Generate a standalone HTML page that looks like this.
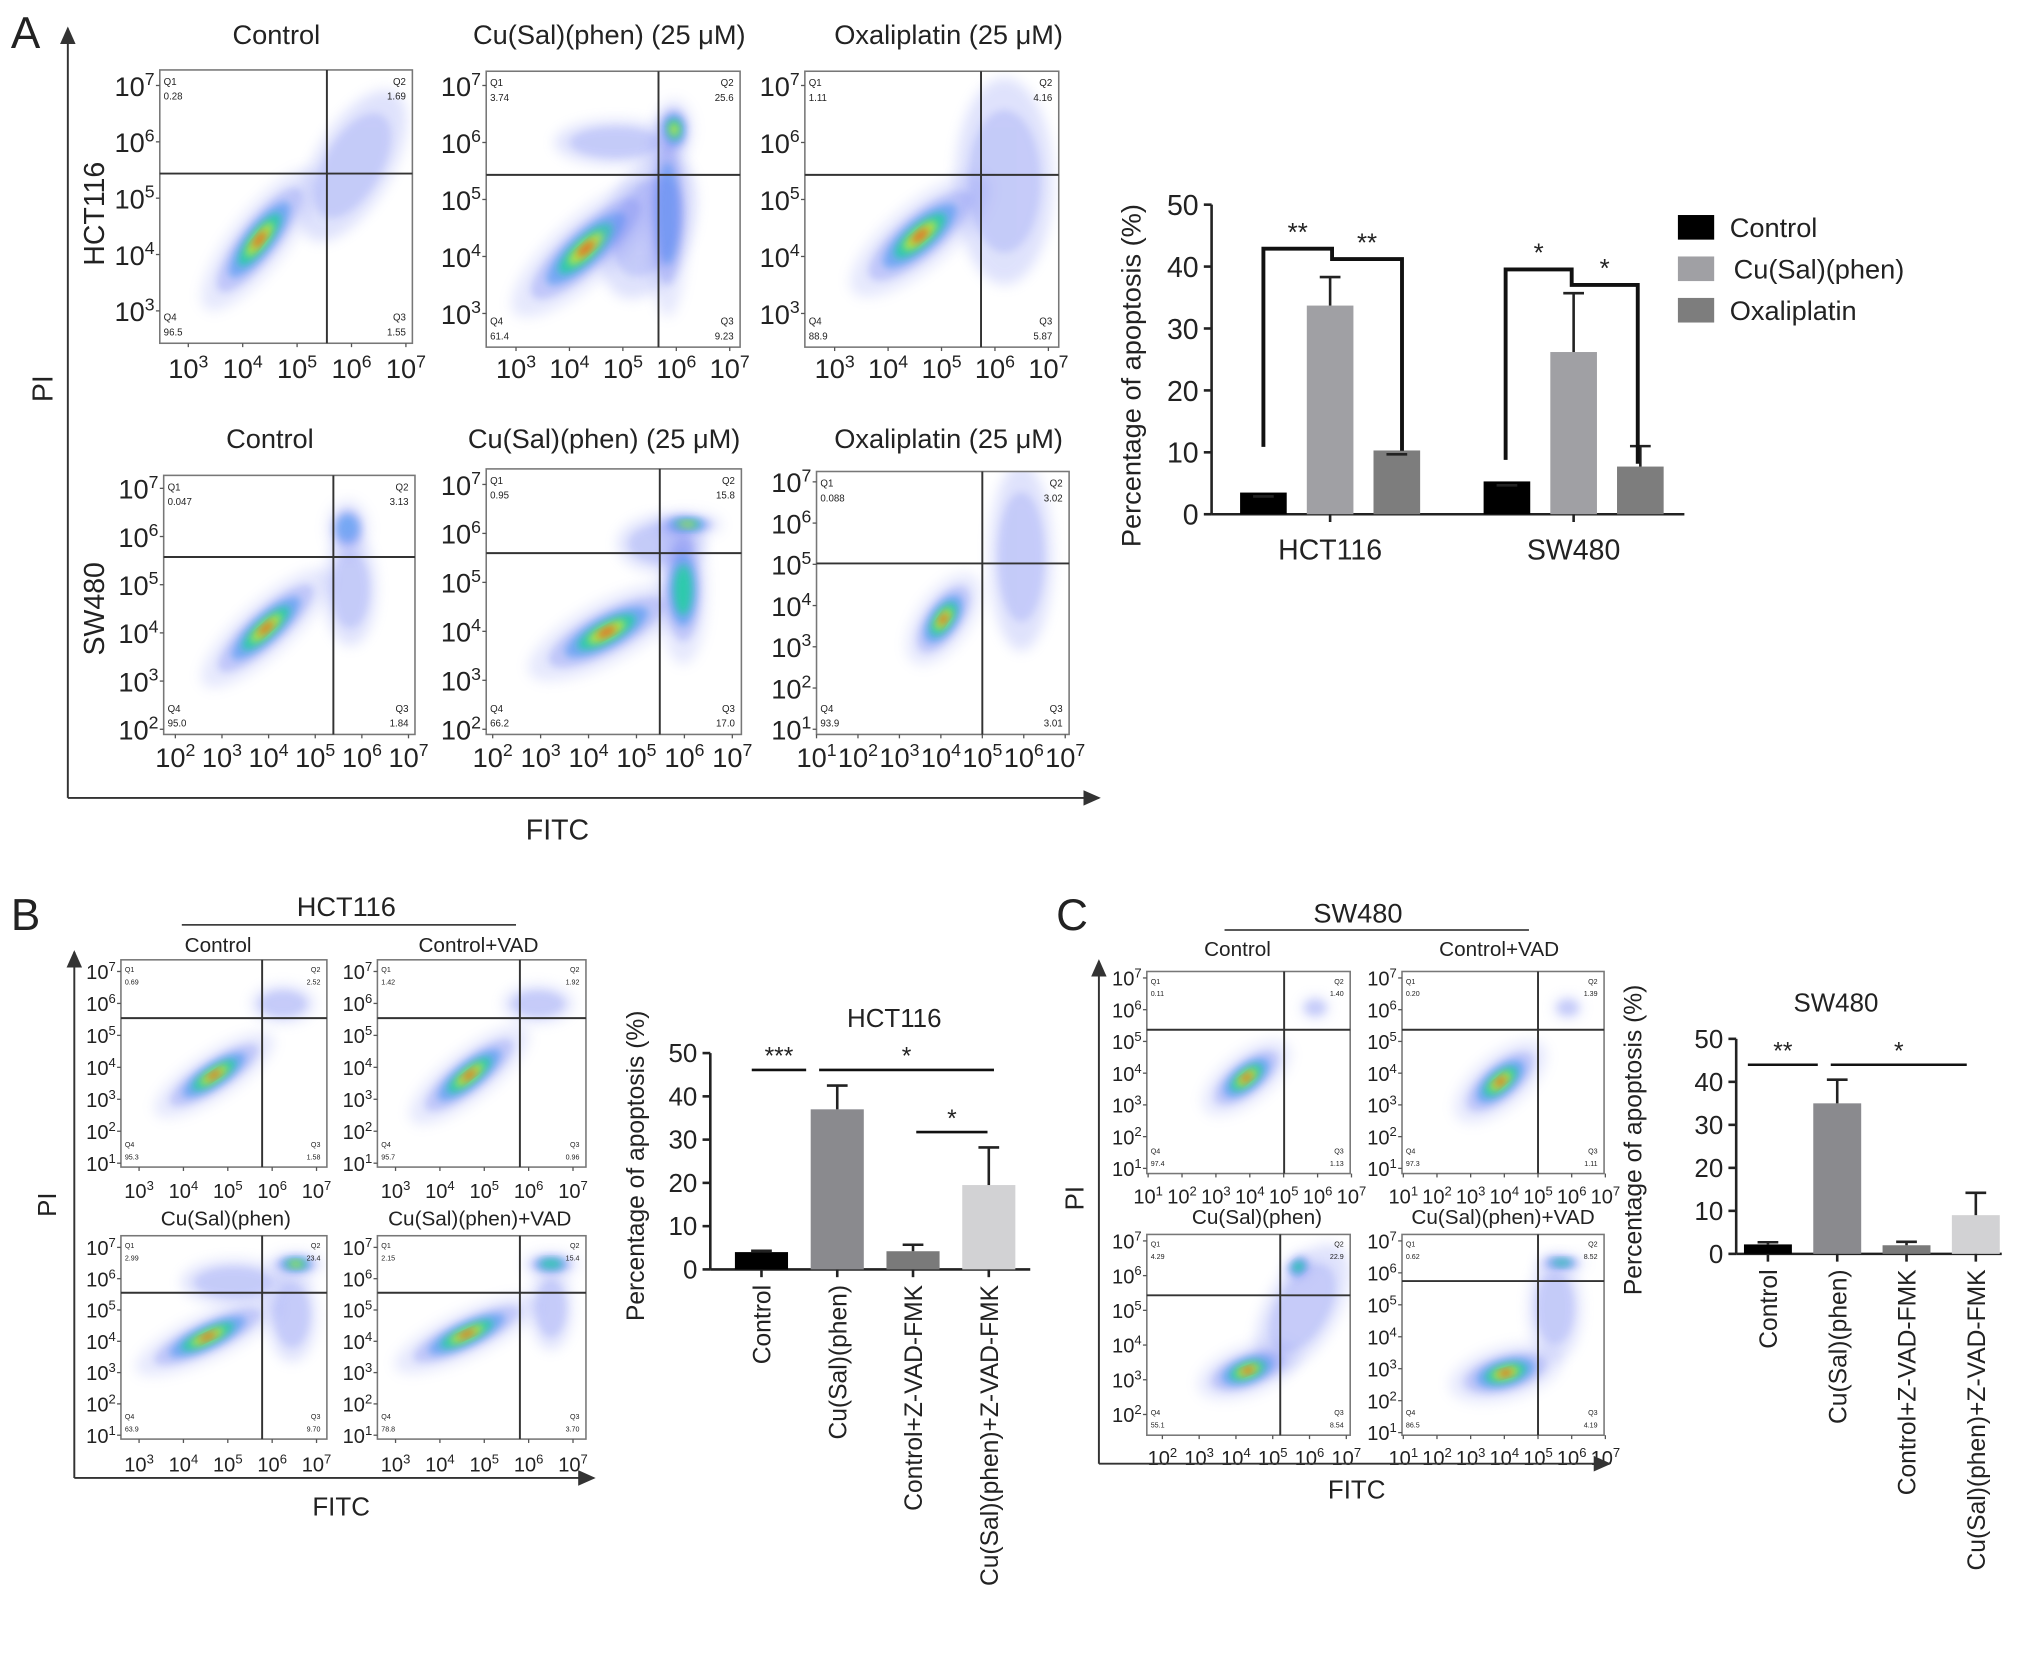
<!DOCTYPE html>
<html><head><meta charset="utf-8"><style>
html,body{margin:0;padding:0;background:#fff}
svg{display:block}
text{font-family:"Liberation Sans",Arial,sans-serif;fill:#222}
</style></head><body>
<svg id="fig" xmlns="http://www.w3.org/2000/svg" width="2032" height="1658" viewBox="0 0 1568 1280">
<defs>
<filter id="blur" x="-50%" y="-50%" width="200%" height="200%"><feGaussianBlur stdDeviation="3"/></filter>
<filter id="blur2" x="-50%" y="-50%" width="200%" height="200%"><feGaussianBlur stdDeviation="5"/></filter>
<marker id="arr" markerWidth="10" markerHeight="10" refX="8" refY="5" orient="auto"><path d="M0,1 L9,5 L0,9 z" fill="#333"/></marker>
</defs>
<g id="layer"></g>
</svg>
<script>
// ---------- bar chart data ----------
const aGroups = ["HCT116", "SW480"];
const aSeries = ["Control", "Cu(Sal)(phen)", "Oxaliplatin"];
const aValHCT = [3.5, 33.7, 10.3];
const aErrHCT = [0, 4.6, 0];
const aValSW = [5.3, 26.2, 7.7];
const aErrSW = [0, 9.5, 3.3];
const aTicks = [0, 10, 20, 30, 40, 50];

const bCats = ["Control", "Cu(Sal)(phen)", "Control+Z-VAD-FMK", "Cu(Sal)(phen)+Z-VAD-FMK"];
const bVals = [4.0, 37.0, 4.2, 19.5];
const bErrs = [0.3, 5.5, 1.5, 8.7];
const cVals = [2.2, 35.0, 2.0, 9.0];
const cErrs = [0.5, 5.5, 0.8, 5.2];
const bcTicks = [0, 10, 20, 30, 40, 50];

const NS = "http://www.w3.org/2000/svg";
const layer = document.getElementById('layer');
function mk(tag, attrs, parent, txt){
  const e = document.createElementNS(NS, tag);
  for (const k in attrs) e.setAttribute(k, attrs[k]);
  if (txt !== undefined) e.textContent = txt;
  (parent || layer).appendChild(e);
  return e;
}
function txt(x,y,s,size,anchor,parent,extra){
  const t = mk('text', Object.assign({x:x,y:y,'font-size':size,'text-anchor':anchor||'middle'}, extra||{}), parent, s);
  
  
  return t;
}
function pow10(x,y,e,size,anchor,parent){
  const t = mk('text',{x:x,y:y,'font-size':size,'text-anchor':anchor||'middle'},parent);
  
  
  mk('tspan',{},t,'10');
  mk('tspan',{dy:-size*0.4,'font-size':size*0.65},t,String(e));
  return t;
}
function line(x1,y1,x2,y2,w,col,parent){
  return mk('line',{x1:x1,y1:y1,x2:x2,y2:y2,stroke:col||'#222','stroke-width':w||1},parent);
}

// ---------- flow cytometry plots ----------
const blobCols = [['#6c7cf2',0.30,1.0],['#3a8ff0',0.55,0.72],['#22d0a0',0.85,0.5],['#c7e83a',0.9,0.32],['#f04a1a',0.9,0.16]];
function blob(g,cx,cy,rx,ry,ang,scale){
  const bg = mk('g',{transform:`rotate(${ang} ${cx} ${cy})`},g);
  
  
  const lv = scale||5;
  mk('ellipse',{cx:cx,cy:cy,rx:rx*1.35,ry:ry*1.45,fill:'#8c98f4',opacity:lv<=1?0.28:0.22,filter:'url(#blur2)'},bg);
  blobCols.slice(0,lv).forEach(c=>{
    mk('ellipse',{cx:cx,cy:cy,rx:rx*c[2],ry:ry*c[2],fill:c[0],opacity:lv<=1?0.22:c[1],filter:'url(#blur)'},bg);
  });
}
function flow(cfg){
  const g = mk('g',{});
  
  
  const [x0,y0,x1,y1] = cfg.box;
  const cp = 'clip-'+cfg.name;
  const cl = mk('clipPath',{id:cp},g);
  mk('rect',{x:x0,y:y0,width:x1-x0,height:y1-y0},cl);
  const bgrp = mk('g',{'clip-path':`url(#${cp})`},g);
  cfg.blobs.forEach(b=>blob(bgrp,b[0],b[1],b[2],b[3],b[4],b[5]));
  const r = mk('rect',{x:x0,y:y0,width:x1-x0,height:y1-y0,fill:'none',stroke:'#777','stroke-width':1.2},g);
  
  
  line(cfg.v,y0,cfg.v,y1,1.5,'#333',g);
  line(x0,cfg.h,x1,cfg.h,1.5,'#333',g);
  const fs = cfg.fs, qs = cfg.qs || cfg.fs*0.38;
  const q = cfg.q;
  txt(x0+3,y0+qs+4,'Q1',qs,'start',g); txt(x0+3,y0+2*qs+8,q[0],qs,'start',g);
  txt(x1-5,y0+qs+4,'Q2',qs,'end',g); txt(x1-5,y0+2*qs+8,q[1],qs,'end',g);
  txt(x1-5,y1-qs-10,'Q3',qs,'end',g); txt(x1-5,y1-6,q[2],qs,'end',g);
  txt(x0+3,y1-qs-10,'Q4',qs,'start',g); txt(x0+3,y1-6,q[3],qs,'start',g);
  const ye = cfg.yE, n = ye.length;
  ye.forEach((e,i)=>{
    const y = cfg.yL[0] + (cfg.yL[1]-cfg.yL[0])*i/(n-1);
    pow10(x0-4,y+fs*0.38,e,fs,'end',g);
    line(x0-3,y,x0,y,1,'#555',g);
  });
  const xe = cfg.xE, m = xe.length;
  xe.forEach((e,i)=>{
    const x = cfg.xL[0] + (cfg.xL[1]-cfg.xL[0])*i/(m-1);
    pow10(x,cfg.xY,e,fs,'middle',g);
    line(x,y1,x,y1+3,1,'#555',g);
  });
  if (cfg.title) txt(cfg.title[1],cfg.title[2],cfg.title[0],cfg.tfs,'middle',g);
}
const E7_3=[7,6,5,4,3], E3_7=[3,4,5,6,7], E7_2=[7,6,5,4,3,2], E2_7=[2,3,4,5,6,7];
const E7_1=[7,6,5,4,3,2,1], E1_7=[1,2,3,4,5,6,7];
const AF=21, AT=21, BF=15.5, BT=16;
// Panel A row 1
flow({name:'flow-hct116-control',box:[123,54,318,265],v:252,h:134,fs:AF,tfs:AT,qs:7.5,q:['0.28','1.69','1.55','96.5'],yE:E7_3,yL:[66,240],xE:E3_7,xL:[145,313],xY:292,title:['Control',213,34],
  blobs:[[200,185,50,15,-52],[272,128,22,45,30,1]]});
flow({name:'flow-hct116-cusalphen',box:[375,55,571,268],v:508,h:135,fs:AF,tfs:AT,qs:7.5,q:['3.74','25.6','9.23','61.4'],yE:E7_3,yL:[66,242],xE:E3_7,xL:[398,563],xY:292,title:['Cu(Sal)(phen) (25 μM)',470,34],
  blobs:[[452,192,55,17,-42],[515,165,12,55,0,2],[520,100,11,16,0,4],[475,110,35,12,0,1],[500,175,25,40,20,1]]});
flow({name:'flow-hct116-oxaliplatin',box:[621,55,817,268],v:757,h:135,fs:AF,tfs:AT,qs:7.5,q:['1.11','4.16','5.87','88.9'],yE:E7_3,yL:[66,242],xE:E3_7,xL:[644,809],xY:292,title:['Oxaliplatin (25 μM)',732,34],
  blobs:[[710,182,50,17,-40],[775,140,28,55,0,1]]});
// Panel A row 2
flow({name:'flow-sw480-control',box:[126,367,320,567],v:257,h:430,fs:AF,tfs:AT,qs:7.5,q:['0.047','3.13','1.84','95.0'],yE:E7_2,yL:[377,563],xE:E2_7,xL:[135,315],xY:592,title:['Control',208,346],
  blobs:[[205,485,48,14,-42],[268,408,12,15,0,2],[270,455,15,30,0,1]]});
flow({name:'flow-sw480-cusalphen',box:[375,362,572,567],v:509,h:427,fs:AF,tfs:AT,qs:7.5,q:['0.95','15.8','17.0','66.2'],yE:E7_2,yL:[374,563],xE:E2_7,xL:[380,565],xY:592,title:['Cu(Sal)(phen) (25 μM)',466,346],
  blobs:[[468,488,50,16,-28],[527,455,14,40,0,3],[530,405,20,7,0,4],[510,420,25,15,0,1]]});
flow({name:'flow-sw480-oxaliplatin',box:[630,364,825,567],v:758,h:435,fs:AF,tfs:AT,qs:7.5,q:['0.088','3.02','3.01','93.9'],yE:E7_1,yL:[372,563],xE:E1_7,xL:[630,822],xY:592,title:['Oxaliplatin (25 μM)',732,346],
  blobs:[[728,478,30,14,-55],[788,430,18,50,0,1]]});
// Panel B plots
flow({name:'flow-b-control',box:[93,741,252,901],v:202,h:786,fs:BF,tfs:BT,qs:5.5,q:['0.69','2.52','1.58','95.3'],yE:E7_1,yL:[750,898],xE:E3_7,xL:[107,244],xY:925,title:['Control',168,735],
  blobs:[[165,830,40,12,-33],[218,775,18,10,0,1]]});
flow({name:'flow-b-control-vad',box:[291,741,452,901],v:401,h:786,fs:BF,tfs:BT,qs:5.5,q:['1.42','1.92','0.96','95.7'],yE:E7_1,yL:[750,898],xE:E3_7,xL:[305,442],xY:925,title:['Control+VAD',369,735],
  blobs:[[362,830,42,13,-38],[415,775,20,10,0,1]]});
flow({name:'flow-b-cusalphen',box:[93,954,252,1111],v:202,h:998,fs:BF,tfs:BT,qs:5.5,q:['2.99','23.4','9.70','63.9'],yE:E7_1,yL:[963,1108],xE:E3_7,xL:[107,244],xY:1136,title:['Cu(Sal)(phen)',174,946],
  blobs:[[160,1032,45,12,-25],[228,976,16,7,0,4],[225,1015,14,25,0,1],[180,990,30,12,0,1]]});
flow({name:'flow-b-cusalphen-vad',box:[291,954,452,1111],v:401,h:998,fs:BF,tfs:BT,qs:5.5,q:['2.15','15.4','3.70','78.8'],yE:E7_1,yL:[963,1108],xE:E3_7,xL:[305,442],xY:1136,title:['Cu(Sal)(phen)+VAD',370,946],
  blobs:[[360,1030,45,12,-25],[425,976,16,7,0,3],[425,1010,12,22,0,1]]});
// Panel C plots
flow({name:'flow-c-control',box:[885,750,1042,906],v:991,h:795,fs:BF,tfs:BT,qs:5.5,q:['0.11','1.40','1.13','97.4'],yE:E7_1,yL:[755,902],xE:E1_7,xL:[886,1043],xY:929,title:['Control',955,738],
  blobs:[[962,832,30,13,-38],[1015,778,8,6,0,1]]});
flow({name:'flow-c-control-vad',box:[1082,750,1238,906],v:1187,h:795,fs:BF,tfs:BT,qs:5.5,q:['0.20','1.39','1.11','97.3'],yE:E7_1,yL:[755,902],xE:E1_7,xL:[1083,1239],xY:929,title:['Control+VAD',1157,738],
  blobs:[[1158,835,32,14,-40],[1210,778,8,6,0,1]]});
flow({name:'flow-c-cusalphen',box:[885,953,1042,1108],v:988,h:1000,fs:BF,tfs:BT,qs:5.5,q:['4.29','22.9','8.54','55.1'],yE:E7_2,yL:[958,1092],xE:E2_7,xL:[897,1039],xY:1131,title:['Cu(Sal)(phen)',970,945],
  blobs:[[963,1058,30,13,-20],[1005,1010,20,38,30,1],[1002,978,9,7,-40,3]]});
flow({name:'flow-c-cusalphen-vad',box:[1082,953,1238,1108],v:1187,h:989,fs:BF,tfs:BT,qs:5.5,q:['0.62','8.52','4.19','86.5'],yE:E7_1,yL:[958,1106],xE:E1_7,xL:[1083,1239],xY:1131,title:['Cu(Sal)(phen)+VAD',1160,945],
  blobs:[[1162,1060,33,14,-15],[1205,975,14,5,0,3],[1200,1010,15,28,0,1]]});

// ---------- panel letters, axes ----------
txt(8,37,'A',34,'start'); txt(8,718,'B',34,'start'); txt(815,718,'C',34,'start');
function arrowAxis(x1,y1,x2,y2,name){
  const l = mk('line',{x1:x1,y1:y1,x2:x2,y2:y2,stroke:'#333','stroke-width':1.5,'marker-end':'url(#arr)'});
  
  
}
arrowAxis(52,616,52,22,'pi-axis-a'); arrowAxis(52,616,848,616,'fitc-axis-a');
txt(40,300,'PI',22,'middle',null,{transform:'rotate(-90 40 300)'});
txt(430,648,'FITC',22);
txt(80,165,'HCT116',22,'middle',null,{transform:'rotate(-90 80 165)'});
txt(80,470,'SW480',22,'middle',null,{transform:'rotate(-90 80 470)'});
arrowAxis(57,1141,57,735,'pi-axis-b'); arrowAxis(57,1141,458,1141,'fitc-axis-b');
txt(43,930,'PI',20,'middle',null,{transform:'rotate(-90 43 930)'});
txt(263,1170,'FITC',20);
txt(267,707,'HCT116',21); line(140,714,398,714,1.2);
arrowAxis(848,1130,848,742,'pi-axis-c'); arrowAxis(848,1130,1242,1130,'fitc-axis-c');
txt(836,925,'PI',20,'middle',null,{transform:'rotate(-90 836 925)'});
txt(1047,1157,'FITC',20);
txt(1048,712,'SW480',21); line(945,718,1180,718,1.2);

// ---------- bar chart A ----------
(function(){
  const g = mk('g',{});  
  const x0 = 935, y0 = 397, ppu = (397-158)/50;
  const Y = v => y0 - v*ppu;
  line(x0,Y(50),x0,y0,2,'#222',g); line(x0,y0,1300,y0,2,'#222',g);
  aTicks.forEach(t=>{ line(x0-6,Y(t),x0,Y(t),2,'#222',g); txt(x0-10,Y(t)+8,String(t),22,'end',g); });
  txt(880,290,'Percentage of apoptosis (%)',21,'middle',g,{transform:'rotate(-90 880 290)'});
  const cols = ['#000','#a0a0a4','#7d7d7d'];
  const groupStart = [957,1145], bw = 36, step = 51.5;
  const vals = [aValHCT, aValSW], errs = [aErrHCT, aErrSW];
  aGroups.forEach((gname,gi)=>{
    vals[gi].forEach((v,si)=>{
      const x = groupStart[gi] + si*step;
      const r = mk('rect',{x:x,y:Y(v),width:bw,height:y0-Y(v),fill:cols[si]},g);
      
      
      const e = errs[gi][si];
      if (e>0){ line(x+bw/2,Y(v),x+bw/2,Y(v+e),2,'#222',g); line(x+bw/2-8,Y(v+e),x+bw/2+8,Y(v+e),2,'#222',g); }
      else { line(x+bw/2-8,Y(v)+3,x+bw/2+8,Y(v)+3,2,'#222',g); }
    });
    const cx = groupStart[gi] + step + bw/2;
    line(cx,y0,cx,y0+6,2,'#222',g);
    txt(cx,y0+35,gname,22,'middle',g);
  });
  function bracket(xa,ya,xm,ytop,ymid,xb,yb,s1,s2){
    mk('polyline',{points:`${xa},${ya} ${xa},${ytop} ${xm},${ytop} ${xm},${ymid} ${xb},${ymid} ${xb},${yb}`,fill:'none',stroke:'#111','stroke-width':3},g);
    txt((xa+xm)/2,ytop-6,s1,20,'middle',g); txt((xm+xb)/2,ymid-6,s2,20,'middle',g);
  }
  bracket(975,345,1028,192,200,1082,348,'**','**');
  bracket(1162,355,1213,208,220,1264,358,'*','*');
  aSeries.forEach((s,i)=>{
    const ly = 166 + i*32;
    const r = mk('rect',{x:1295,y:ly,width:28,height:19,fill:cols[i]},g);
     
    txt(i===1?1338:1335,ly+17,s,21,'start',g);
  });
})();

// ---------- bar charts B and C ----------
function smallBar(cfg){
  const g = mk('g',{});  
  const x0 = cfg.x0, y0 = cfg.y0, ppu = cfg.ppu;
  const Y = v => y0 - v*ppu;
  line(x0,Y(50),x0,y0,2,'#222',g); line(x0,y0,cfg.xend,y0,2,'#222',g);
  bcTicks.forEach(t=>{ line(x0-6,Y(t),x0,Y(t),2,'#222',g); txt(x0-10,Y(t)+7,String(t),20,'end',g); });
  txt(cfg.ytx,cfg.yty,'Percentage of apoptosis (%)',19,'middle',g,{transform:`rotate(-90 ${cfg.ytx} ${cfg.yty})`});
  txt(cfg.titleX,cfg.titleY,cfg.title,20,'middle',g);
  const cols = ['#000','#8a8a8e','#7a7a7a','#d2d2d4'];
  cfg.vals.forEach((v,i)=>{
    const x = cfg.bx0 + i*cfg.step;
    const r = mk('rect',{x:x,y:Y(v),width:cfg.bw,height:y0-Y(v),fill:cols[i]},g);
    
    
    const e = cfg.errs[i], cx = x+cfg.bw/2;
    line(cx,Y(v),cx,Y(v+e),2,'#222',g); line(cx-8,Y(v+e),cx+8,Y(v+e),2,'#222',g);
    line(cx,y0,cx,y0+6,2,'#222',g);
    txt(cx+7,y0+12,bCats[i],19,'end',g,{transform:`rotate(-90 ${cx+7} ${y0+12})`});
  });
  cfg.sig.forEach(s=>{ line(s[0],s[2],s[1],s[2],2,'#111',g); txt((s[0]+s[1])/2,s[2]-4,s[3],19,'middle',g); });
}
smallBar({name:'bar-chart-b',x0:548,y0:980,ppu:(980-813)/50,xend:795,ytx:497,yty:900,title:'HCT116',titleX:690,titleY:793,
  vals:bVals,errs:bErrs,bx0:567,step:58.5,bw:41,
  sig:[[580,622,826,'***'],[632,767,826,'*'],[707,762,874,'*']]});
smallBar({name:'bar-chart-c',x0:1340,y0:968,ppu:(968-802)/50,xend:1545,ytx:1267,yty:880,title:'SW480',titleX:1417,titleY:781,
  vals:cVals,errs:cErrs,bx0:1346,step:53.5,bw:37,
  sig:[[1349,1403,822,'**'],[1413,1518,822,'*']]});
</script>
</body></html>
